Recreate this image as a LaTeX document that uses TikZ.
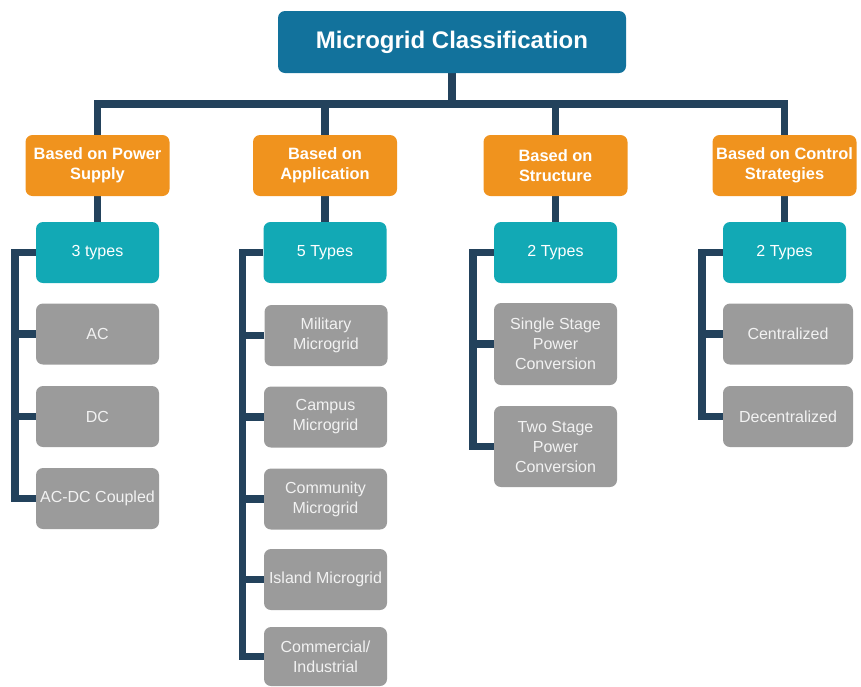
\documentclass[tikz,border=0pt]{standalone}
\usepackage{fontspec}
\setmainfont{Liberation Sans}
\usetikzlibrary{backgrounds}
\definecolor{topblue}{HTML}{12729C}
\definecolor{orangeB}{HTML}{F0931E}
\definecolor{tealB}{HTML}{12A9B5}
\definecolor{grayB}{HTML}{9B9B9B}
\definecolor{navy}{HTML}{23425C}
\definecolor{ltext}{HTML}{F2F2F2}
\begin{document}
\begin{tikzpicture}[x=1pt,y=-1pt,
  box/.style={rounded corners=7pt, inner sep=0pt, align=center, text=white},
  topbox/.style={box, fill=topblue, minimum width=348pt, minimum height=62pt,
     font=\fontsize{24}{29}\selectfont\bfseries},
  catbox/.style={box, fill=orangeB, minimum width=144pt, minimum height=61pt,
     font=\fontsize{16.4}{20}\selectfont\bfseries},
  typebox/.style={box, fill=tealB, minimum width=123pt, minimum height=61pt,
     font=\fontsize{16}{20}\selectfont},
  itembox/.style={box, fill=grayB, text=ltext, minimum width=123pt, minimum height=61pt,
     font=\fontsize{16}{20}\selectfont},
  conn/.style={draw=navy, line width=7.5pt, line join=miter}]
\useasboundingbox (0,0) rectangle (861,686);

\node[topbox] (top) at (452,42) {Microgrid Classification};

\node[catbox] (o1) at (97.5,165.5) {Based on Power\\Supply};
\node[catbox] (o2) at (325,165.5) {Based on\\Application};
\node[catbox] (o3) at (555.5,165.5) {Based on\\Structure};
\node[catbox] (o4) at (784.5,165.5) {Based on Control\\Strategies};

\node[typebox] (t1) at (97.5,252.5) {3 types};
\node[typebox] (t2) at (325,252.5) {5 Types};
\node[typebox] (t3) at (555.5,252.5) {2 Types};
\node[typebox] (t4) at (784.5,252.5) {2 Types};

\node[itembox] (a1) at (97.5,334) {AC};
\node[itembox] (a2) at (97.5,416.5) {DC};
\node[itembox] (a3) at (97.5,498.5) {AC-DC Coupled};

\node[itembox] (b1) at (326,335.5) {Military\\Microgrid};
\node[itembox] (b2) at (325.5,417) {Campus\\Microgrid};
\node[itembox] (b3) at (325.5,499) {Community\\Microgrid};
\node[itembox] (b4) at (325.5,579.5) {Island Microgrid};
\node[itembox, minimum height=59pt] (b5) at (325.5,656.5) {Commercial/\\Industrial};

\node[itembox, minimum height=82pt] (c1) at (555.5,344) {Single Stage\\Power\\Conversion};
\node[itembox, minimum height=81pt] (c2) at (555.5,446.5) {Two Stage\\Power\\Conversion};

\node[itembox, minimum width=130pt] (d1) at (788,334) {Centralized};
\node[itembox, minimum width=130pt] (d2) at (788,416.5) {Decentralized};

\coordinate (bar) at (0,104);

\begin{scope}[on background layer]
  \draw[conn] (top.south) -- (top.south |- bar);
  \draw[conn] (o1.north) -- (o1.north |- bar) -- (o4.north |- bar) -- (o4.north);
  \draw[conn] (o2.north) -- (o2.north |- bar);
  \draw[conn] (o3.north) -- (o3.north |- bar);
  \foreach \i in {1,2,3,4} { \draw[conn] (o\i.south) -- (t\i.north); }

  \draw[conn] (t1.west) -- ++(-21,0) |- (a3.west);
  \draw[conn] (a1.west) -- ++(-21,0);
  \draw[conn] (a2.west) -- ++(-21,0);

  \draw[conn] (t2.west) -- ++(-21,0) |- (b5.west);
  \foreach \n in {b1,b2,b3,b4} { \draw[conn] (\n.west) -- ++(-21,0); }

  \draw[conn] (t3.west) -- ++(-21,0) |- (c2.west);
  \draw[conn] (c1.west) -- ++(-21,0);

  \draw[conn] (t4.west) -- ++(-21,0) |- (d2.west);
  \draw[conn] (d1.west) -- ++(-21,0);
\end{scope}
\end{tikzpicture}
\end{document}
